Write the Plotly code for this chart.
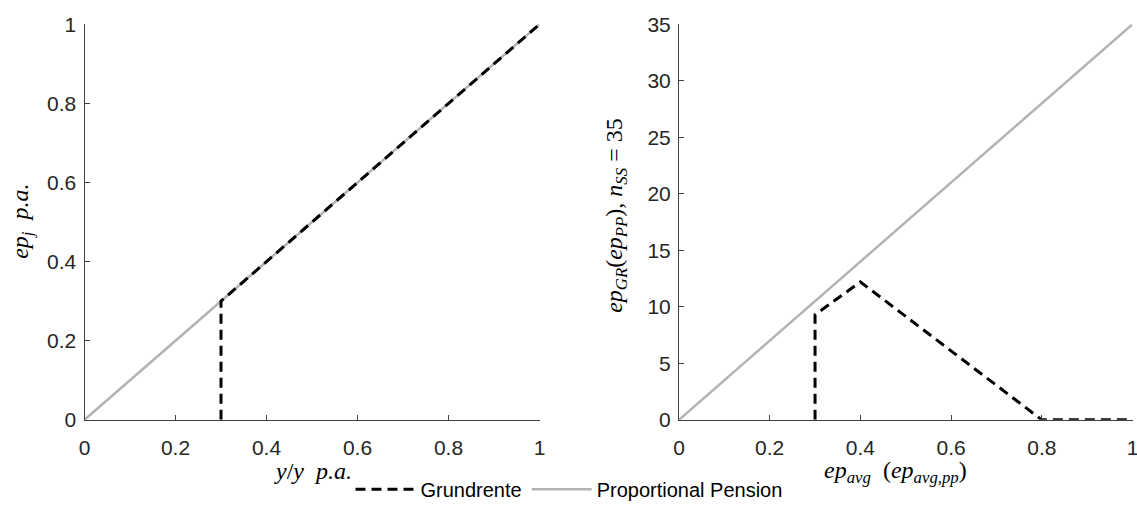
import plotly.graph_objects as go

# ---- data ----
pp_x = [0, 1]
pp_y_left = [0, 1]
gr_x_left = [0.3, 0.3, 1]
gr_y_left = [0, 0.3, 1]

pp_y_right = [0, 35]
gr_x_right = [0.3, 0.3, 0.4, 0.8, 1]
gr_y_right = [0, 9.3, 12.2, 0, 0]

left_yticks = [0, 0.2, 0.4, 0.6, 0.8, 1]
right_yticks = [0, 5, 10, 15, 20, 25, 30, 35]
xticks = [0, 0.2, 0.4, 0.6, 0.8, 1]

GRAY = "#b3b3b3"
BLACK = "#000000"
DASH = "10px,6px"
W, H = 1137, 509

fig = go.Figure()

# left panel
fig.add_trace(go.Scatter(x=pp_x, y=pp_y_left, mode="lines", name="Proportional Pension",
                         line=dict(color=GRAY, width=2.5), legendrank=2, showlegend=True,
                         xaxis="x", yaxis="y"))
fig.add_trace(go.Scatter(x=gr_x_left, y=gr_y_left, mode="lines", name="Grundrente",
                         line=dict(color=BLACK, width=3, dash=DASH), legendrank=1, showlegend=True,
                         xaxis="x", yaxis="y"))
# right panel
fig.add_trace(go.Scatter(x=pp_x, y=pp_y_right, mode="lines", name="Proportional Pension",
                         line=dict(color=GRAY, width=2.5), showlegend=False,
                         xaxis="x2", yaxis="y2"))
fig.add_trace(go.Scatter(x=gr_x_right, y=gr_y_right, mode="lines", name="Grundrente",
                         line=dict(color=BLACK, width=3, dash=DASH), showlegend=False,
                         xaxis="x2", yaxis="y2"))

axis_common = dict(showline=True, linecolor="#404040", linewidth=1, ticks="inside", ticklen=5,
                   tickcolor="#404040", showgrid=False, zeroline=False, automargin=False,
                   ticklabeloverflow="allow",
                   tickfont=dict(family="Liberation Sans, Arial", size=21, color="#262626"))

ydom = [1 - 424 / H, 1 - 24.5 / H]
fig.update_layout(
    width=W, height=H,
    margin=dict(l=0, r=0, t=0, b=0),
    paper_bgcolor="white", plot_bgcolor="white",
    showlegend=True,
    xaxis=dict(domain=[84.5 / W, 539.5 / W], range=[0, 1], tickvals=xticks,
               ticktext=[f"{v:g}" for v in xticks], anchor="y", ticklabelstandoff=9, **axis_common),
    yaxis=dict(domain=ydom, range=[0, 1], tickvals=left_yticks,
               ticktext=[f"{v:g}" for v in left_yticks], anchor="x", ticklabelstandoff=3, **axis_common),
    xaxis2=dict(domain=[679 / W, 1132.5 / W], range=[0, 1], tickvals=xticks,
                ticktext=[f"{v:g}" for v in xticks], anchor="y2", ticklabelstandoff=9, **axis_common),
    yaxis2=dict(domain=ydom, range=[0, 35], tickvals=right_yticks,
                ticktext=[f"{v:g}" for v in right_yticks], anchor="x2", ticklabelstandoff=3, **axis_common),
    legend=dict(orientation="h", x=569 / W, xanchor="center", y=1 - 494 / H, yanchor="middle",
                font=dict(family="Liberation Sans, Arial", size=20, color="#000"),
                bgcolor="rgba(0,0,0,0)", itemwidth=60, tracegroupgap=0),
)

mfont = dict(family="Liberation Serif, Times New Roman, serif", size=24, color="#000")
fig.add_annotation(text="<i>ep<sub>j</sub>  p.a.</i>", x=22 / W, y=1 - 224 / H,
                   xref="paper", yref="paper", xanchor="center", yanchor="middle",
                   showarrow=False, textangle=-90, font=mfont)
fig.add_annotation(text="<i>ep<sub>GR</sub></i>(<i>ep<sub>PP</sub></i>), <i>n<sub>SS</sub></i> = 35",
                   x=616 / W, y=1 - 218 / H, xanchor="center", yanchor="middle",
                   xref="paper", yref="paper", showarrow=False, textangle=-90, font=mfont)
fig.add_annotation(text="<i>y</i>/<i>y</i>  <i>p.a.</i>", x=313 / W, y=1 - 476 / H,
                   xref="paper", yref="paper", xanchor="center", yanchor="middle",
                   showarrow=False, font=mfont)
fig.add_annotation(text="<i>ep<sub>avg</sub></i>  (<i>ep<sub>avg,pp</sub></i>)", x=895 / W, y=1 - 477 / H,
                   xref="paper", yref="paper", xanchor="center", yanchor="middle",
                   showarrow=False, font=mfont)

fig.write_html("out.html")
